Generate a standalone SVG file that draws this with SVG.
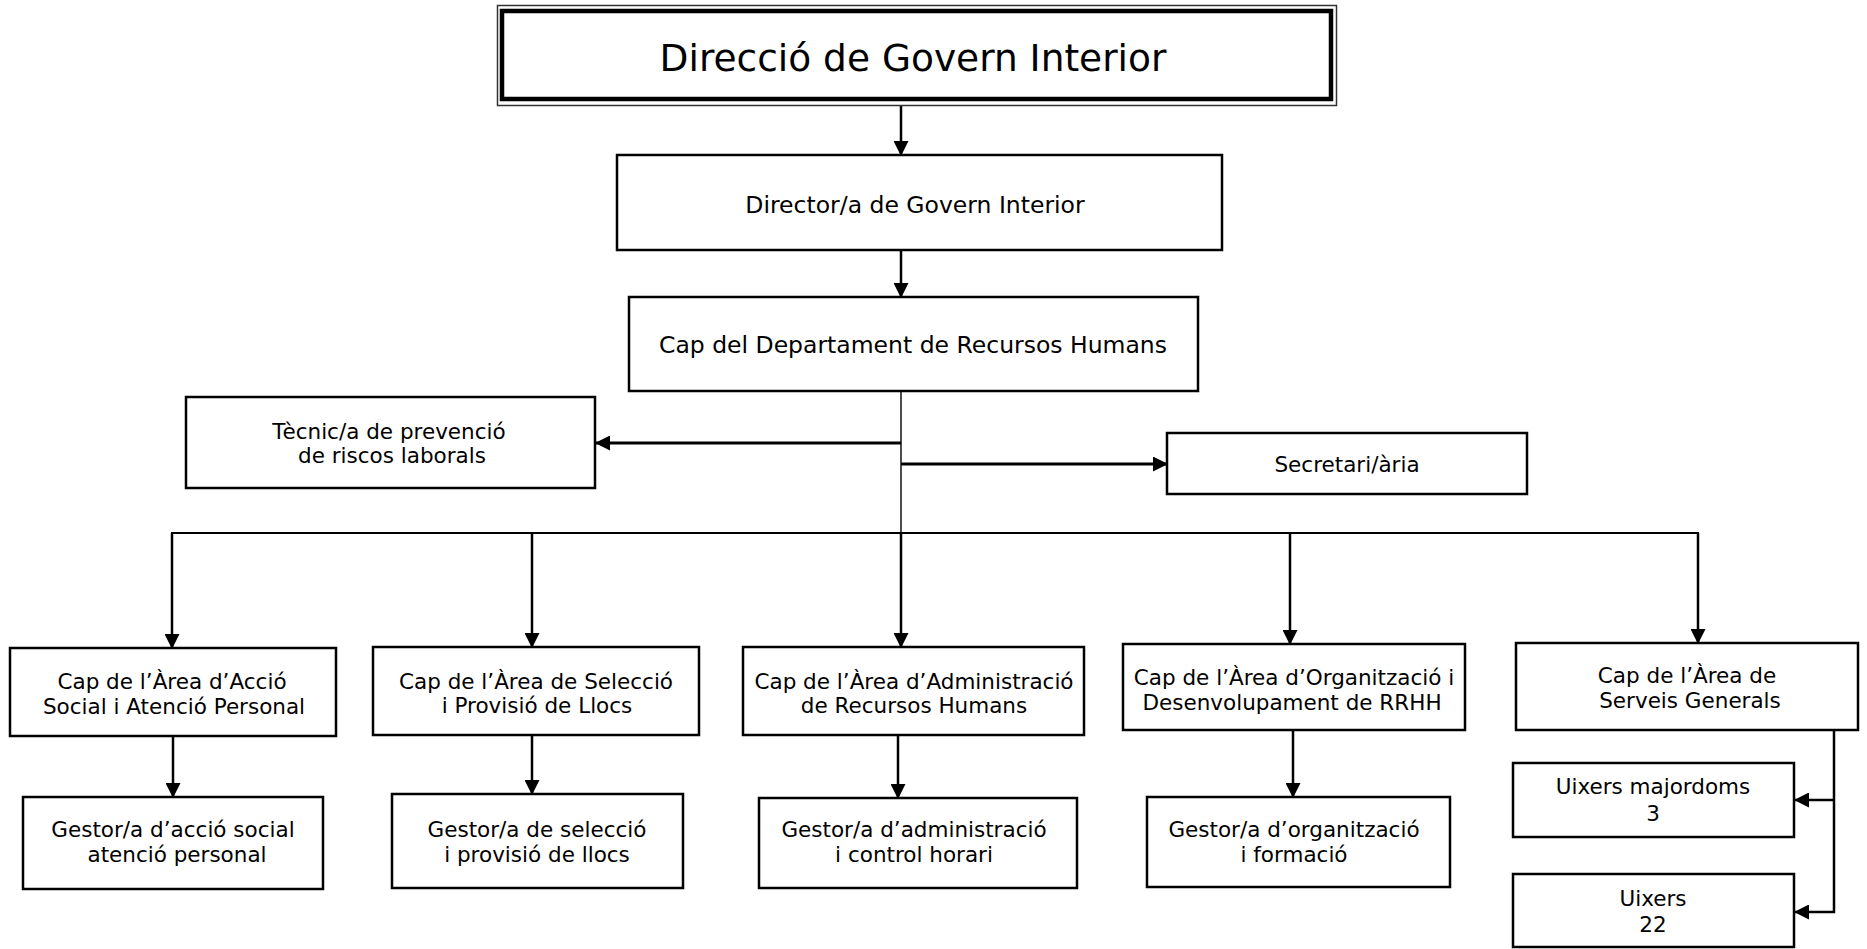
<svg xmlns="http://www.w3.org/2000/svg" width="1867" height="949" viewBox="0 0 1867 949">
<defs>
<style>
.box{fill:#fff;stroke:#000;stroke-width:2.5}
.t{font-family:"DejaVu Sans","Liberation Sans",sans-serif;font-size:21.5px;fill:#000;text-anchor:middle}
.tm{font-size:23.5px}
.c{stroke:#000;stroke-width:2.5;fill:none}
.thin{stroke:#000;stroke-width:1.4;fill:none}
</style>
<marker id="ah" viewBox="0 0 15 15" refX="14" refY="7.5" markerWidth="15" markerHeight="15" markerUnits="userSpaceOnUse" orient="auto">
<path d="M0,0 L15,7.5 L0,15 z" fill="#000"/>
</marker>
</defs>
<rect width="1867" height="949" fill="#fff"/>

<g id="connectors">
<line class="c" x1="901" y1="103" x2="901" y2="155" marker-end="url(#ah)"/>
<line class="c" x1="901" y1="251" x2="901" y2="297" marker-end="url(#ah)"/>
<line class="thin" x1="901" y1="392" x2="901" y2="534"/>
<line class="c" x1="901" y1="443" x2="596" y2="443" style="stroke-width:3" marker-end="url(#ah)"/>
<line class="c" x1="901" y1="464" x2="1167" y2="464" style="stroke-width:3" marker-end="url(#ah)"/>
<line class="c" x1="171" y1="533" x2="1699" y2="533" style="stroke-width:2"/>
<line class="c" x1="172" y1="533" x2="172" y2="648" marker-end="url(#ah)"/>
<line class="c" x1="532" y1="533" x2="532" y2="647" marker-end="url(#ah)"/>
<line class="c" x1="901" y1="533" x2="901" y2="647" marker-end="url(#ah)"/>
<line class="c" x1="1290" y1="533" x2="1290" y2="644" marker-end="url(#ah)"/>
<line class="c" x1="1698" y1="533" x2="1698" y2="643" marker-end="url(#ah)"/>
<line class="c" x1="173" y1="736" x2="173" y2="797" marker-end="url(#ah)"/>
<line class="c" x1="532" y1="735" x2="532" y2="794" marker-end="url(#ah)"/>
<line class="c" x1="898" y1="735" x2="898" y2="798" marker-end="url(#ah)"/>
<line class="c" x1="1293" y1="730" x2="1293" y2="797" marker-end="url(#ah)"/>
<polyline class="c" points="1834,730 1834,912 1795,912" marker-end="url(#ah)"/>
<line class="c" x1="1834" y1="800" x2="1795" y2="800" marker-end="url(#ah)"/>
</g>

<g id="n-direccio">
<rect x="497.5" y="5.5" width="839" height="100" fill="#fff" stroke="#333" stroke-width="1.5"/>
<rect x="502" y="11" width="829" height="88" fill="none" stroke="#000" stroke-width="4.5"/>
<text class="t" x="913" y="71" style="font-size:37.5px">Direcció de Govern Interior</text>
</g>

<g id="n-director">
<rect class="box" x="617" y="155" width="605" height="95"/>
<text class="t tm" x="915" y="213">Director/a de Govern Interior</text>
</g>

<g id="n-capdept">
<rect class="box" x="629" y="297" width="569" height="94"/>
<text class="t tm" x="913" y="353">Cap del Departament de Recursos Humans</text>
</g>

<g id="n-tecnic">
<rect class="box" x="186" y="397" width="409" height="91"/>
<text class="t" x="389" y="439">Tècnic/a de prevenció</text>
<text class="t" x="392" y="463">de riscos laborals</text>
</g>

<g id="n-secretaria">
<rect class="box" x="1167" y="433" width="360" height="61"/>
<text class="t" x="1347" y="472">Secretari/ària</text>
</g>

<g id="n-accio">
<rect class="box" x="10" y="648" width="326" height="88"/>
<text class="t" x="172" y="689">Cap de l’Àrea d’Acció</text>
<text class="t" x="174" y="714">Social i Atenció Personal</text>
</g>

<g id="n-seleccio">
<rect class="box" x="373" y="647" width="326" height="88"/>
<text class="t" x="536" y="689">Cap de l’Àrea de Selecció</text>
<text class="t" x="537" y="713">i Provisió de Llocs</text>
</g>

<g id="n-administracio">
<rect class="box" x="743" y="647" width="341" height="88"/>
<text class="t" x="914" y="689">Cap de l’Àrea d’Administració</text>
<text class="t" x="914" y="713">de Recursos Humans</text>
</g>

<g id="n-organitzacio">
<rect class="box" x="1123" y="644" width="342" height="86"/>
<text class="t" x="1294" y="685">Cap de l’Àrea d’Organització i</text>
<text class="t" x="1292" y="710">Desenvolupament de RRHH</text>
</g>

<g id="n-serveis">
<rect class="box" x="1516" y="643" width="342" height="87"/>
<text class="t" x="1687" y="683">Cap de l’Àrea de</text>
<text class="t" x="1690" y="708">Serveis Generals</text>
</g>

<g id="n-gestor-accio">
<rect class="box" x="23" y="797" width="300" height="92"/>
<text class="t" x="173" y="837">Gestor/a d’acció social</text>
<text class="t" x="177" y="862">atenció personal</text>
</g>

<g id="n-gestor-seleccio">
<rect class="box" x="392" y="794" width="291" height="94"/>
<text class="t" x="537" y="837">Gestor/a de selecció</text>
<text class="t" x="537" y="862">i provisió de llocs</text>
</g>

<g id="n-gestor-administracio">
<rect class="box" x="759" y="798" width="318" height="90"/>
<text class="t" x="914" y="837">Gestor/a d’administració</text>
<text class="t" x="914" y="862">i control horari</text>
</g>

<g id="n-gestor-organitzacio">
<rect class="box" x="1147" y="797" width="303" height="90"/>
<text class="t" x="1294" y="837">Gestor/a d’organització</text>
<text class="t" x="1294" y="862">i formació</text>
</g>

<g id="n-majordoms">
<rect class="box" x="1513" y="763" width="281" height="74"/>
<text class="t" x="1653" y="794">Uixers majordoms</text>
<text class="t" x="1653" y="821">3</text>
</g>

<g id="n-uixers">
<rect class="box" x="1513" y="874" width="281" height="73"/>
<text class="t" x="1653" y="906">Uixers</text>
<text class="t" x="1653" y="932">22</text>
</g>
</svg>
